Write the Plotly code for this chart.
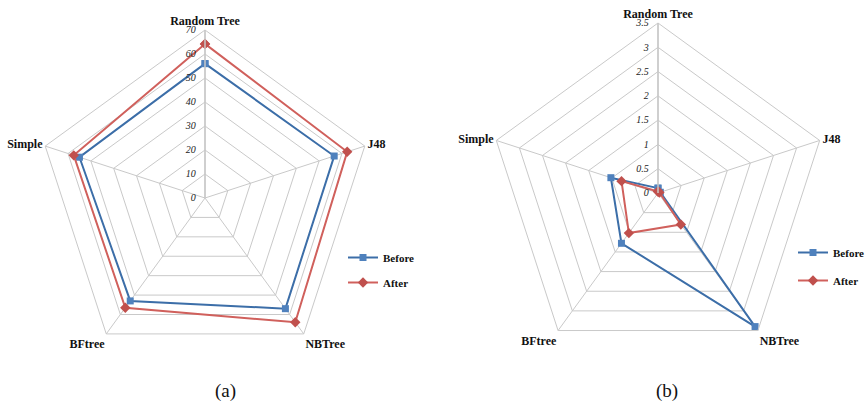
import plotly.graph_objects as go

# Classifier names around the radar (clockwise from the top)
categories = ["Random Tree", "J48", "NBTree", "BFtree", "Simple"]

# Panel (a)
a_before = [56, 56.6, 57, 53, 55]
a_after = [64.2, 62.3, 64, 56.5, 57.5]
a_ticks = [0, 10, 20, 30, 40, 50, 60, 70]

# Panel (b)
b_before = [0.1, 0.05, 3.4, 1.28, 1.02]
b_after = [0.03, 0.03, 0.8, 1.02, 0.79]
b_ticks = [0, 0.5, 1, 1.5, 2, 2.5, 3, 3.5]

BLUE_LINE = "#3c6ea8"
BLUE_MARK = "#4f81bd"
RED_LINE = "#d0605c"
RED_MARK = "#c0504d"
GRID = "#c9c9c9"
SERIF = "Liberation Serif, Times New Roman, serif"


def closed(vals):
    return list(vals) + [vals[0]]


cats_closed = closed(categories)

fig = go.Figure()


def add_series(subplot, before, after, legend):
    fig.add_trace(go.Scatterpolar(
        r=closed(before), theta=cats_closed, subplot=subplot, name="<b>Before</b>",
        mode="lines+markers", legend=legend, legendgroup=legend + "b",
        line=dict(color=BLUE_LINE, width=2),
        marker=dict(symbol="square", size=7, color=BLUE_MARK),
    ))
    fig.add_trace(go.Scatterpolar(
        r=closed(after), theta=cats_closed, subplot=subplot, name="<b>After</b>",
        mode="lines+markers", legend=legend, legendgroup=legend + "a",
        line=dict(color=RED_LINE, width=2),
        marker=dict(symbol="diamond", size=8, color=RED_MARK),
    ))


add_series("polar", a_before, a_after, "legend")
add_series("polar2", b_before, b_after, "legend2")


def polar_layout(domain_x, domain_y, rng, ticks):
    return dict(
        domain=dict(x=domain_x, y=domain_y),
        gridshape="linear",
        bgcolor="white",
        radialaxis=dict(
            range=rng, tickvals=ticks, angle=90, tickangle=90,
            showline=True, linecolor=GRID, linewidth=1.5,
            gridcolor=GRID, gridwidth=1,
            ticks="outside", ticklen=5, tickcolor="rgba(0,0,0,0)",
            side="counterclockwise",
            tickfont=dict(family=SERIF, size=10, style="italic", color="#222"),
        ),
        angularaxis=dict(
            direction="clockwise", rotation=90,
            categoryorder="array", categoryarray=categories,
            tickvals=categories, ticktext=["<b>%s</b>" % c for c in categories],
            showline=True, linecolor=GRID, linewidth=1,
            gridcolor=GRID, gridwidth=1, ticks="",
            tickfont=dict(family=SERIF, size=12, color="#111"),
        ),
    )


W, H = 866, 407
fig.update_layout(
    width=W, height=H,
    margin=dict(l=0, r=0, t=0, b=0, autoexpand=False),
    paper_bgcolor="white",
    polar=polar_layout([37 / W, 373 / W], [1 - 366 / H, 1 - 30 / H], [0, 70], a_ticks),
    polar2=polar_layout([488 / W, 828 / W], [1 - 363 / H, 1 - 23 / H], [0, 3.5], b_ticks),
    legend=dict(
        x=343 / W, y=1 - 243 / H, xanchor="left", yanchor="top",
        bgcolor="rgba(0,0,0,0)", tracegroupgap=6, traceorder="grouped",
        font=dict(family=SERIF, size=11, color="#111"),
    ),
    legend2=dict(
        x=793 / W, y=1 - 238 / H, xanchor="left", yanchor="top",
        bgcolor="rgba(0,0,0,0)", tracegroupgap=9, traceorder="grouped",
        font=dict(family=SERIF, size=11, color="#111"),
    ),
    annotations=[
        dict(text="(a)", x=225 / W, y=1 - 391 / H, xref="paper", yref="paper",
             xanchor="center", yanchor="middle", showarrow=False,
             font=dict(family=SERIF, size=19, color="#111")),
        dict(text="(b)", x=667 / W, y=1 - 391 / H, xref="paper", yref="paper",
             xanchor="center", yanchor="middle", showarrow=False,
             font=dict(family=SERIF, size=19, color="#111")),
    ],
)

fig.write_html("out.html")
